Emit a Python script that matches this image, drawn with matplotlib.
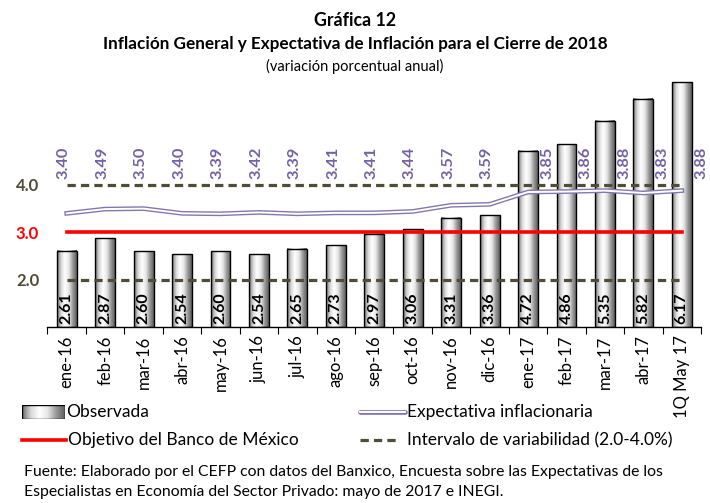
import matplotlib
matplotlib.use('Agg')
import matplotlib.pyplot as plt
from matplotlib.colors import LinearSegmentedColormap
from matplotlib.lines import Line2D
import numpy as np

plt.rcParams['font.family'] = ['Lato', 'DejaVu Sans']

# data
meses = ['ene-16', 'feb-16', 'mar-16', 'abr-16', 'may-16', 'jun-16', 'jul-16',
         'ago-16', 'sep-16', 'oct-16', 'nov-16', 'dic-16', 'ene-17', 'feb-17',
         'mar-17', 'abr-17', '1Q May 17']
observada = [2.61, 2.87, 2.60, 2.54, 2.60, 2.54, 2.65, 2.73, 2.97, 3.06,
             3.31, 3.36, 4.72, 4.86, 5.35, 5.82, 6.17]
expectativa = [3.40, 3.49, 3.50, 3.40, 3.39, 3.42, 3.39, 3.41, 3.41, 3.44,
               3.57, 3.59, 3.85, 3.86, 3.88, 3.83, 3.88]
objetivo = 3.0
intervalo = (2.0, 4.0)

olive = '#514C36'
purple = '#7562A2'
line_purple = '#8477AE'
ymin, ymax = 1.0, 6.3

fig = plt.figure(figsize=(7.1, 5.03), dpi=100)
ax = fig.add_axes([0.0669, 1 - 327 / 503, 0.9205, (327 - 76) / 503])

x = np.arange(len(meses))
w = 0.52

# cylinder-like gradient for the bars
cmap = LinearSegmentedColormap.from_list('cyl', ['#6e6e6e', '#d8d8d8', '#ffffff', '#e6e6e6', '#9a9a9a', '#5e5e5e'])
grad = np.linspace(0, 1, 64).reshape(1, -1)
for xi, v in zip(x, observada):
    ax.imshow(grad, extent=[xi - w / 2, xi + w / 2, ymin, v], aspect='auto',
              cmap=cmap, zorder=2, interpolation='bilinear')
ax.bar(x, [v - ymin for v in observada], bottom=ymin, width=w, fill=False,
       edgecolor='black', linewidth=1.0, zorder=3)

for xi, v in zip(x, observada):
    ax.text(xi, ymin + 0.07, f'{v:.2f}', rotation=90, ha='center', va='bottom',
            fontsize=11.5, fontweight='bold', color='black', zorder=4)

# interval and target lines
for lvl in intervalo:
    ax.plot([x[0], x[-1]], [lvl, lvl], color=olive, lw=2.3, dashes=(2.6, 1.6), zorder=4)
ax.plot([x[0], x[-1]], [objetivo, objetivo], color='#FF0000', lw=2.6, zorder=4)

# double line for expectations
ax.plot(x, expectativa, color=line_purple, lw=3.4, zorder=5, solid_joinstyle='round')
ax.plot(x, expectativa, color='white', lw=1.4, zorder=6, solid_joinstyle='round')

for i, v in enumerate(expectativa):
    shift = 14 if i >= 12 else -2
    ax.annotate(f'{v:.2f}', (x[i], 4.13), xytext=(shift, 0), textcoords='offset points',
                rotation=90, ha='center', va='bottom', fontsize=11.8,
                fontweight='bold', color=purple, annotation_clip=False)

ax.set_xlim(-0.5, len(meses) - 0.5)
ax.set_ylim(ymin, ymax)

for s in ['top', 'right', 'left']:
    ax.spines[s].set_visible(False)
ax.spines['bottom'].set_linewidth(1.0)

ax.set_xticks(np.arange(-0.5, len(meses), 1.0))
ax.set_xticklabels([])
ax.tick_params(axis='x', which='major', length=5, direction='out')
ax.set_xticks(x, minor=True)
ax.set_xticklabels(meses, minor=True, rotation=90, fontsize=12)
ax.tick_params(axis='x', which='minor', length=0, pad=6)

ax.set_yticks([2.0, 3.0, 4.0])
ax.set_yticklabels(['2.0', '3.0', '4.0'], fontsize=12, fontweight='bold')
ax.tick_params(axis='y', length=0, pad=6)
for lab, c in zip(ax.get_yticklabels(), [olive, '#FF0000', olive]):
    lab.set_color(c)

# titles
fig.text(0.5, 1 - 20 / 503, 'Gráfica 12', ha='center', va='center', fontsize=12.8, fontweight='bold')
fig.text(0.5, 1 - 44 / 503, 'Inflación General y Expectativa de Inflación para el Cierre de 2018',
         ha='center', va='center', fontsize=12.3, fontweight='bold')
fig.text(0.5, 1 - 66 / 503, '(variación porcentual anual)', ha='center', va='center', fontsize=10.5)

# legend drawn by hand
lx = fig.add_axes([22 / 710, 1 - 419 / 503, 43 / 710, 14 / 503])
lx.imshow(grad, extent=[0, 1, 0, 1], aspect='auto', cmap=cmap, interpolation='bilinear')
lx.add_patch(plt.Rectangle((0, 0), 1, 1, fill=False, edgecolor='black', lw=1.0))
lx.set_xlim(0, 1)
lx.set_ylim(0, 1)
lx.axis('off')
fig.text(66 / 710, 1 - 412 / 503, 'Observada', va='center', fontsize=12.5)

fig.add_artist(Line2D([360 / 710, 405 / 710], [1 - 412 / 503] * 2, color=line_purple, lw=3.4,
                      solid_capstyle='round'))
fig.add_artist(Line2D([360 / 710, 405 / 710], [1 - 412 / 503] * 2, color='white', lw=1.4))
fig.text(407 / 710, 1 - 412 / 503, 'Expectativa inflacionaria', va='center', fontsize=12.5)

fig.add_artist(Line2D([22 / 710, 66 / 710], [1 - 440 / 503] * 2, color='#FF0000', lw=2.6))
fig.text(68 / 710, 1 - 440 / 503, 'Objetivo del Banco de México', va='center', fontsize=12.5)

fig.add_artist(Line2D([360 / 710, 400 / 710], [1 - 440 / 503] * 2, color=olive, lw=2.3,
                      dashes=(2.6, 1.6)))
fig.text(407 / 710, 1 - 440 / 503, 'Intervalo de variabilidad (2.0-4.0%)', va='center', fontsize=12.5)

# source note
fig.text(24 / 710, 1 - 472 / 503,
         'Fuente: Elaborado por el CEFP con datos del Banxico, Encuesta sobre las Expectativas de los',
         va='center', fontsize=11.3)
fig.text(24 / 710, 1 - 492 / 503,
         'Especialistas en Economía del Sector Privado: mayo de 2017 e INEGI.',
         va='center', fontsize=11.3)

fig.savefig('out.png', dpi=100)
